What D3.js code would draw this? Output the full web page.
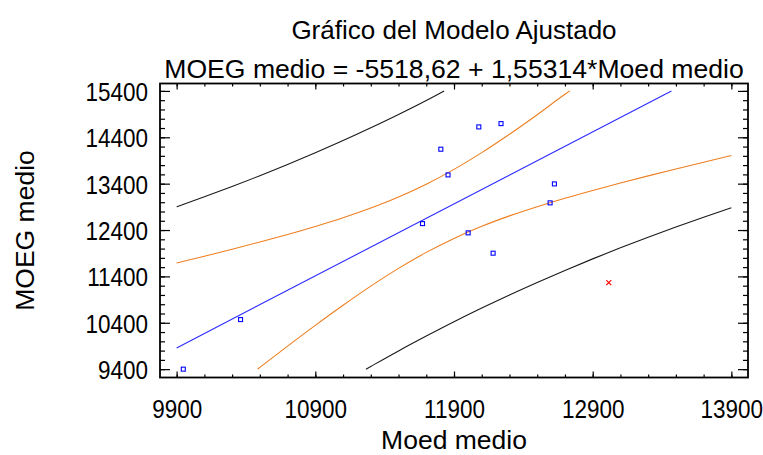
<!DOCTYPE html>
<html>
<head>
<meta charset="utf-8">
<script src="https://cdn.jsdelivr.net/npm/d3@7"></script>
<style>
  html, body { margin: 0; padding: 0; background: #fff; }
  text { font-family: "Liberation Sans", Arial, sans-serif; fill: #000; }
</style>
</head>
<body>
<svg id="chart" width="763" height="455"></svg>
<script>
// ---------------- DATA ----------------
const titleLine1 = "Gráfico del Modelo Ajustado";
const titleLine2 = "MOEG medio = -5518,62 + 1,55314*Moed medio";
const xAxisTitle = "Moed medio";
const yAxisTitle = "MOEG medio";

const xTickLabels = [9900, 10900, 11900, 12900, 13900];
const yTickLabels = [9400, 10400, 11400, 12400, 13400, 14400, 15400];

// observed points (blue squares)
const obsX = [9948, 10361, 11673, 11805, 11857, 12079, 12239, 12624, 12593, 12002, 12182];
const obsY = [9400, 10469, 12539, 14143, 13589, 14624, 14695, 13395, 12986, 12339, 11901];

// excluded point (red x)
const exclX = [13016];
const exclY = [11267];

// fitted line
const fitX = [9900, 13468];
const fitY = [9858, 15400];

// upper prediction limit (black)
const upPredX = [9900, 10100, 10300, 10500, 10700, 10900, 11100, 11300, 11500, 11700, 11829];
const upPredY = [12901, 13116, 13339, 13571, 13813, 14066, 14329, 14605, 14892, 15193, 15400];

// lower prediction limit (black)
const loPredX = [11265, 11300, 11500, 11700, 11900, 12100, 12300, 12500, 12700, 12900, 13100, 13300, 13500, 13700, 13900];
const loPredY = [9400, 9459, 9793, 10113, 10422, 10717, 11000, 11270, 11530, 11778, 12016, 12244, 12464, 12676, 12881];

// upper confidence limit (orange)
const upConfX = [9900, 10100, 10300, 10500, 10700, 10900, 11100, 11300, 11500, 11700, 11900, 12100, 12300, 12500, 12700, 12735];
const upConfY = [11688, 11835, 11986, 12142, 12305, 12478, 12665, 12874, 13112, 13388, 13708, 14069, 14465, 14887, 15327, 15400];

// lower confidence limit (orange)
const loConfX = [10484, 10500, 10700, 10900, 11100, 11300, 11500, 11700, 11900, 12100, 12300, 12500, 12700, 12900, 13100, 13300, 13500, 13700, 13900];
const loConfY = [9400, 9437, 9896, 10344, 10777, 11190, 11573, 11918, 12220, 12480, 12705, 12904, 13086, 13254, 13414, 13568, 13717, 13863, 14006];

// ---------------- LAYOUT ----------------
const svg = d3.select("#chart");
const L = 160, R = 748, T = 83.5, B = 377.5;
const x = d3.scaleLinear().domain([9780, 14020]).range([L, R]);
const y = d3.scaleLinear().domain([9220, 15560]).range([B, T]);

const xMinor = d3.range(9900, 13901, 200);
const yMinor = d3.range(9400, 15401, 200);

const FONT = "Liberation Sans, Arial, sans-serif";
const TICK_FS = 22.5, TICK_SY = 1.18;

svg.append("defs").append("clipPath").attr("id", "clip")
  .append("rect").attr("x", L).attr("y", T).attr("width", R - L).attr("height", B - T);

function axisStyle(g) {
  g.select(".domain").remove();
  g.selectAll("line").attr("stroke", "#000").attr("stroke-width", 1.2);
}

// minor ticks
svg.append("g").attr("transform", `translate(0,${B})`)
  .call(d3.axisBottom(x).tickValues(xMinor).tickSize(-3).tickFormat(""))
  .call(axisStyle);
svg.append("g").attr("transform", `translate(0,${T})`)
  .call(d3.axisTop(x).tickValues(xMinor).tickSize(-3).tickFormat(""))
  .call(axisStyle);
svg.append("g").attr("transform", `translate(${L},0)`)
  .call(d3.axisLeft(y).tickValues(yMinor).tickSize(-5).tickFormat(""))
  .call(axisStyle);
svg.append("g").attr("transform", `translate(${R},0)`)
  .call(d3.axisRight(y).tickValues(yMinor).tickSize(-5).tickFormat(""))
  .call(axisStyle);

// major ticks
const xAxisG = svg.append("g").attr("transform", `translate(0,${B})`)
  .call(d3.axisBottom(x).tickValues(xTickLabels).tickSize(-6).tickFormat(d3.format("d")))
  .call(axisStyle);
svg.append("g").attr("transform", `translate(0,${T})`)
  .call(d3.axisTop(x).tickValues(xTickLabels).tickSize(-6).tickFormat(""))
  .call(axisStyle);
const yAxisG = svg.append("g").attr("transform", `translate(${L},0)`)
  .call(d3.axisLeft(y).tickValues(yTickLabels).tickSize(-10).tickFormat(d3.format("d")))
  .call(axisStyle);
svg.append("g").attr("transform", `translate(${R},0)`)
  .call(d3.axisRight(y).tickValues(yTickLabels).tickSize(-10).tickFormat(""))
  .call(axisStyle);

// tick label styling (slightly tall glyphs, as in the reference)
xAxisG.selectAll("text")
  .attr("font-size", TICK_FS).attr("font-family", FONT).attr("fill", "#000")
  .attr("x", 0).attr("y", 0).attr("dy", null)
  .attr("transform", `translate(0,40) scale(1,${TICK_SY})`);
yAxisG.selectAll("text")
  .attr("font-size", TICK_FS).attr("font-family", FONT).attr("fill", "#000")
  .attr("x", 0).attr("y", 0).attr("dy", null)
  .attr("transform", `translate(-12,${0.358 * TICK_FS * TICK_SY}) scale(1,${TICK_SY})`);

// frame
svg.append("rect").attr("x", L).attr("y", T).attr("width", R - L).attr("height", B - T)
  .attr("fill", "none").attr("stroke", "#000").attr("stroke-width", 1.8);

// curves
const plot = svg.append("g").attr("clip-path", "url(#clip)");
function drawCurve(xs, ys, color) {
  const pts = xs.map((v, i) => [v, ys[i]]);
  plot.append("path").datum(pts)
    .attr("fill", "none").attr("stroke", color).attr("stroke-width", 1.1)
    .attr("d", d3.line().x(d => x(d[0])).y(d => y(d[1])).curve(d3.curveMonotoneX));
}
drawCurve(upPredX, upPredY, "#1a1a1a");
drawCurve(loPredX, loPredY, "#1a1a1a");
drawCurve(upConfX, upConfY, "#ee7f20");
drawCurve(loConfX, loConfY, "#ee7f20");
drawCurve(fitX, fitY, "#2b2bff");

// observed squares
const sq = 4;
plot.selectAll("rect.obs").data(obsX.map((v, i) => [v, obsY[i]])).enter()
  .append("rect").attr("class", "obs")
  .attr("x", d => x(d[0]) - sq / 2).attr("y", d => y(d[1]) - sq / 2)
  .attr("width", sq).attr("height", sq)
  .attr("fill", "none").attr("stroke", "#0000ff").attr("stroke-width", 1.1);

// excluded point
const xs = 2.5;
exclX.forEach((v, i) => {
  const cx = x(v), cy = y(exclY[i]);
  plot.append("path")
    .attr("d", `M${cx - xs},${cy - xs}L${cx + xs},${cy + xs}M${cx - xs},${cy + xs}L${cx + xs},${cy - xs}`)
    .attr("stroke", "#ff0000").attr("stroke-width", 1.2).attr("fill", "none");
});

// titles
const cx = (L + R) / 2;
svg.append("text").attr("x", cx).attr("y", 39).attr("text-anchor", "middle")
  .attr("font-size", 26).text(titleLine1);
svg.append("text").attr("x", cx).attr("y", 78).attr("text-anchor", "middle")
  .attr("font-size", 26.6).text(titleLine2);
svg.append("text").attr("x", cx).attr("y", 449).attr("text-anchor", "middle")
  .attr("font-size", 26.5).text(xAxisTitle);
svg.append("text").attr("transform", `translate(33.5,${(T + B) / 2}) rotate(-90)`)
  .attr("text-anchor", "middle").attr("font-size", 26.5).text(yAxisTitle);
</script>
</body>
</html>
